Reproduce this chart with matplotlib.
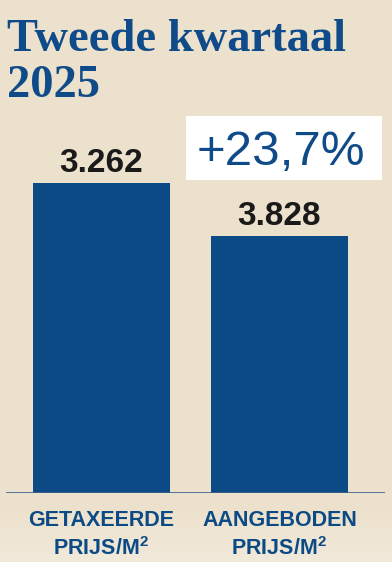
import numpy as np
import matplotlib
matplotlib.use("Agg")
import matplotlib.pyplot as plt
from matplotlib.patches import Rectangle
from matplotlib.colors import LinearSegmentedColormap

plt.rcParams["mathtext.fontset"] = "custom"
plt.rcParams["mathtext.rm"] = "Liberation Sans:bold"
plt.rcParams["mathtext.it"] = "Liberation Sans:bold"
plt.rcParams["mathtext.bf"] = "Liberation Sans:bold"

# data
categories = ["GETAXEERDE\nPRIJS/M$^{2}$", "AANGEBODEN\nPRIJS/M$^{2}$"]
value_labels = ["3.262", "3.828"]
# bar heights as drawn in the reference (they do not follow the labels)
bar_heights = [310, 257]
change_label = "+23,7%"
title_lines = ["Tweede kwartaal", "2025"]

bg = "#ece1cc"
blue = "#0b4a85"
W, H = 392, 562

fig = plt.figure(figsize=(W / 100, H / 100), dpi=100, facecolor=bg)

# faint lighter band at the bottom
grad = fig.add_axes([0, 0, 1, 1], zorder=-10)
rows = np.arange(H)[:, None] / H
g = np.clip((rows - 0.9) / 0.1, 0, 1)
grad.imshow(g, cmap=LinearSegmentedColormap.from_list("bgc", [bg, "#f1e9da"]),
            aspect="auto", extent=[0, 1, 0, 1], vmin=0, vmax=1)
grad.axis("off")

# axes spans the baseline: x 6..385 px, bottom at 493 px, top at 93 px
ax = fig.add_axes([6 / W, (H - 493) / H, (385 - 6) / W, 400 / H])
ax.set_facecolor("none")
x = np.arange(len(categories))
bars = ax.bar(x, bar_heights, width=0.77, color=blue, zorder=2)
ax.set_xlim(-0.5365, 1.593)
ax.set_ylim(0, 400)
ax.axhline(0, color="#3d6189", lw=1.2, zorder=3)
for s in ax.spines.values():
    s.set_visible(False)
ax.set_yticks([])
ax.set_xticks(x)
ax.set_xticklabels(categories, fontfamily="Liberation Sans", fontweight="bold",
                   fontsize=15.5, color=blue, linespacing=1.35)
ax.tick_params(axis="x", length=0, pad=12)

for b, lab in zip(bars, value_labels):
    ax.annotate(lab, (b.get_x() + b.get_width() / 2, b.get_height()),
                xytext=(0, 8), textcoords="offset points", ha="center", va="baseline",
                fontfamily="Liberation Sans", fontweight="bold", fontsize=24, color="#1a1a1a")

# title
for i, line in enumerate(title_lines):
    fig.text(7 / W, 1 - (51 + 46 * i) / H, line, fontfamily="Liberation Serif",
             fontweight="bold", fontsize=33.5, color="#104b89", ha="left", va="baseline")

# white box with the change
fig.patches.append(Rectangle((186 / W, (H - 180) / H), (382 - 186) / W, 64 / H,
                             transform=fig.transFigure, facecolor="white", edgecolor="none"))
fig.text(281 / W, 1 - 165 / H, change_label, fontfamily="Liberation Sans",
         fontsize=35.5, color="#104b89", ha="center", va="baseline")

fig.savefig("out.png", dpi=100, facecolor=bg)
